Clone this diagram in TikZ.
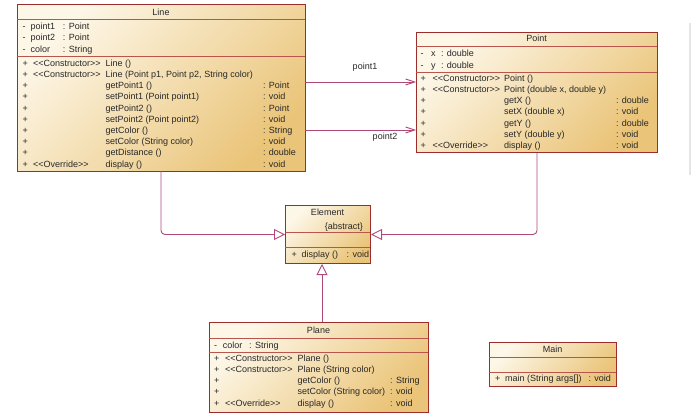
\documentclass[tikz,border=0pt]{standalone}
\usepackage{fontspec}
\usepackage{array}
\usetikzlibrary{arrows.meta}
\newfontfamily\umlfont{Liberation Sans}
\definecolor{umlborder}{RGB}{155,45,45}
\definecolor{umldiv}{RGB}{185,85,75}
\definecolor{umllight}{RGB}{253,247,232}
\definecolor{umldark}{RGB}{234,196,120}
\definecolor{umllink}{RGB}{176,72,122}
\definecolor{umltext}{RGB}{40,40,40}

\begin{document}
\begin{tikzpicture}[x=1pt, y=1pt,
  umlbox/.style={draw=umlborder, line width=1pt, top color=umllight, bottom color=umldark, shading angle=45, inner sep=0, anchor=north west},
  divider/.style={umldiv, line width=1pt},
  txt/.style={font=\umlfont\fontsize{9}{11.2}\selectfont, text=umltext, inner sep=0},
  rows/.style={txt, anchor=base west},
  assoc/.style={umllink, line width=0.9pt, -{Straight Barb[length=9pt,width=6pt]}},
  inherit/.style={umllink, line width=0.9pt, rounded corners=4pt, -{Triangle[open, length=11pt, width=11pt, fill=white]}}]
\useasboundingbox (0,0) rectangle (692,-414);
\draw[gray!20, line width=1.5pt] (690,-23) -- (690,-175);

% Line
\node[umlbox, minimum width=288pt, minimum height=167pt] (line) at (17,-4) {};
\draw[divider] (17,-20) -- (305,-20);
\draw[divider] (17,-57) -- (305,-57);
\node[txt, anchor=base] (linet) at (161,-15.3) {Line};
\node[rows] (linea) at (22.5,-29.7) {\begin{tabular}[t]{@{}w{l}{8pt}@{}w{l}{32.3pt}@{}l@{}}
- & point1 & : Point \\
- & point2 & : Point \\
- & color & : String
\end{tabular}};
\node[rows] (linem) at (22.5,-66.3) {\begin{tabular}[t]{@{}w{l}{10.3pt}@{}w{l}{72.7pt}@{}w{l}{157.3pt}@{}l@{}}
+ & <<Constructor>> & Line () & \\
+ & <<Constructor>> & Line (Point p1, Point p2, String color) & \\
+ & & getPoint1 () & : Point \\
+ & & setPoint1 (Point point1) & : void \\
+ & & getPoint2 () & : Point \\
+ & & setPoint2 (Point point2) & : void \\
+ & & getColor () & : String \\
+ & & setColor (String color) & : void \\
+ & & getDistance () & : double \\
+ & <<Override>> & display () & : void
\end{tabular}};

% Point
\node[umlbox, minimum width=241pt, minimum height=120pt] (point) at (416,-32) {};
\draw[divider] (416,-47) -- (657,-47);
\draw[divider] (416,-73) -- (657,-73);
\node[txt, anchor=base] (pointt) at (536.5,-42) {Point};
\node[rows] (pointa) at (420.5,-57) {\begin{tabular}[t]{@{}w{l}{10.3pt}@{}w{l}{10pt}@{}l@{}}
- & x & : double \\
- & y & : double
\end{tabular}};
\node[rows] (pointm) at (420.5,-81.3) {\begin{tabular}[t]{@{}w{l}{12pt}@{}w{l}{71.3pt}@{}w{l}{112pt}@{}l@{}}
+ & <<Constructor>> & Point () & \\
+ & <<Constructor>> & Point (double x, double y) & \\
+ & & getX () & : double \\
+ & & setX (double x) & : void \\
+ & & getY () & : double \\
+ & & setY (double y) & : void \\
+ & <<Override>> & display () & : void
\end{tabular}};

% Element
\node[umlbox, minimum width=85pt, minimum height=58pt] (element) at (285,-205) {};
\draw[divider] (285,-232) -- (370,-232);
\draw[divider] (285,-247) -- (370,-247);
\node[txt, anchor=base] (elementt) at (327.5,-215.7) {Element};
\node[txt, anchor=base east] (elementa) at (363,-229) {\{abstract\}};
\node[rows] (elementm) at (291.5,-257.3) {\begin{tabular}[t]{@{}w{l}{10pt}@{}w{l}{45pt}@{}l@{}}
+ & display () & : void
\end{tabular}};

% Plane
\node[umlbox, minimum width=219pt, minimum height=90pt] (plane) at (209,-322) {};
\draw[divider] (209,-338) -- (428,-338);
\draw[divider] (209,-352) -- (428,-352);
\node[txt, anchor=base] (planet) at (318.5,-333) {Plane};
\node[rows] (planea) at (214,-348) {\begin{tabular}[t]{@{}w{l}{8.7pt}@{}w{l}{26.3pt}@{}l@{}}
- & color & : String
\end{tabular}};
\node[rows] (planem) at (214,-361.3) {\begin{tabular}[t]{@{}w{l}{11pt}@{}w{l}{72.3pt}@{}w{l}{92.7pt}@{}l@{}}
+ & <<Constructor>> & Plane () & \\
+ & <<Constructor>> & Plane (String color) & \\
+ & & getColor () & : String \\
+ & & setColor (String color) & : void \\
+ & <<Override>> & display () & : void
\end{tabular}};

% Main
\node[umlbox, minimum width=127pt, minimum height=44pt] (main) at (489,-342) {};
\draw[divider] (489,-357) -- (616,-357);
\draw[divider] (489,-372) -- (616,-372);
\node[txt, anchor=base] (maint) at (552.5,-352) {Main};
\node[rows] (mainm) at (495,-381.3) {\begin{tabular}[t]{@{}w{l}{10pt}@{}w{l}{83.3pt}@{}l@{}}
+ & main (String args[]) & : void
\end{tabular}};

% associations
\coordinate (a1) at (305,-82);
\coordinate (a2) at (305,-130);
\draw[assoc] (a1) -- (point.west |- a1);
\draw[assoc] (a2) -- (point.west |- a2);
\node[txt, anchor=base] (p1) at (365,-70) {point1};
\node[txt, anchor=base] (p2) at (385,-140) {point2};

% generalizations
\coordinate (lb) at (161,-171);
\coordinate (pl) at (322,-322);
\draw[inherit] (lb) |- (element.west);
\draw[inherit] (point.south) |- (element.east);
\draw[inherit] (pl) -- (pl |- element.south);
\end{tikzpicture}
\end{document}
